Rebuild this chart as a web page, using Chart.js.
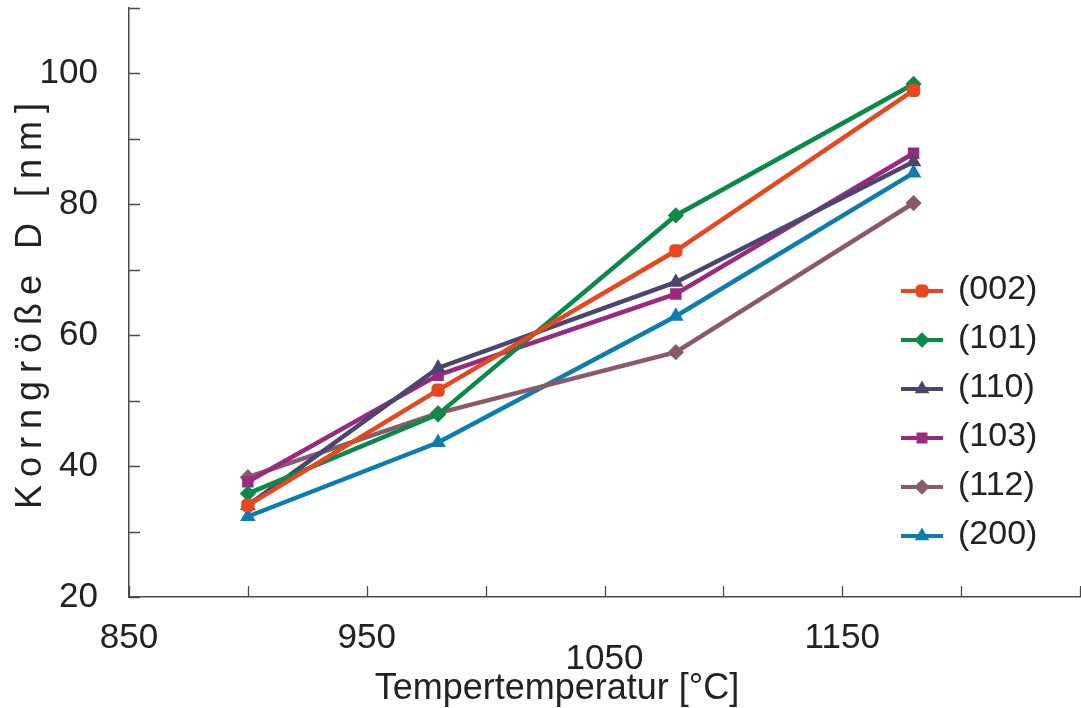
<!DOCTYPE html>
<html>
<head>
<meta charset="utf-8">
<script src="https://cdn.jsdelivr.net/npm/chart.js@4/dist/chart.umd.min.js"></script>
<style>
  body { margin: 0; background: #fff; }
  canvas { display: block; }
</style>
</head>
<body>
<canvas id="grainChart" width="1081" height="708"></canvas>
<script>
// Tempertemperatur [°C]
const temps = [900, 980, 1080, 1180];

// Korngröße D [nm] per reflex
const d002 = [34.0, 51.6, 72.9, 97.4];
const d101 = [35.8, 47.9, 78.3, 98.4];
const d110 = [34.0, 55.0, 68.1, 86.5];
const d103 = [37.6, 53.9, 66.3, 87.8];
const d112 = [38.3, 48.1, 57.4, 80.2];
const d200 = [32.3, 43.6, 62.9, 84.8];

const seriesNames = ['(002)', '(101)', '(110)', '(103)', '(112)', '(200)'];
const xTickLabels = [850, 950, 1050, 1150];
const yTickLabels = [20, 40, 60, 80, 100];

const FONT = "'Liberation Sans', Arial, sans-serif";
const AXIS = '#4a4a4a';

function makeSet(label, values, color, style) {
    return {
        label: label,
        data: values.map((v, i) => ({ x: temps[i], y: v })),
        borderColor: color,
        backgroundColor: color,
        borderWidth: 4.5,
        pointStyle: style,
        pointRadius: 6,
        pointBorderWidth: 3,
        pointBackgroundColor: color,
        tension: 0
    };
}

const datasets = [
    makeSet(seriesNames[0], d002, '#E8461E', 'rectRounded'),
    makeSet(seriesNames[1], d101, '#0A8A48', 'rectRot'),
    makeSet(seriesNames[2], d110, '#4B4670', 'triangle'),
    makeSet(seriesNames[3], d103, '#9A2A80', 'rect'),
    makeSet(seriesNames[4], d112, '#8A5A6C', 'rectRot'),
    makeSet(seriesNames[5], d200, '#0C7DB0', 'triangle')
];

// small tick marks pointing into the plot
const innerTicks = {
    id: 'innerTicks',
    afterDraw(chart) {
        const ctx = chart.ctx;
        const xs = chart.scales.x, ys = chart.scales.y;
        const area = chart.chartArea;
        ctx.save();
        ctx.strokeStyle = AXIS;
        ctx.lineWidth = 1.3;
        ctx.beginPath();
        xs.ticks.forEach(t => {
            const px = Math.round(xs.getPixelForValue(t.value)) + 0.5;
            ctx.moveTo(px, area.bottom);
            ctx.lineTo(px, area.bottom - 11);
        });
        ys.ticks.forEach(t => {
            const py = Math.round(ys.getPixelForValue(t.value)) + 0.5;
            ctx.moveTo(area.left, py);
            ctx.lineTo(area.left + 11, py);
        });
        ctx.stroke();
        ctx.restore();
    }
};

// axis titles: spaced vertical one and the temperature one
const axisTitles = {
    id: 'axisTitles',
    afterDraw(chart) {
        const ctx = chart.ctx;
        ctx.save();
        ctx.fillStyle = '#222';
        ctx.font = '36px ' + FONT;
        ctx.textAlign = 'center';
        ctx.textBaseline = 'alphabetic';
        ctx.fillText('Tempertemperatur [°C]', 557, 699);

        ctx.translate(31, 302);
        ctx.rotate(-Math.PI / 2);
        ctx.textBaseline = 'middle';
        if ('letterSpacing' in ctx) ctx.letterSpacing = '8px';
        ctx.fillText('Korngröße D [nm]', 0, 0);
        ctx.restore();
    }
};

// legend inside the plot on the right
const sideLegend = {
    id: 'sideLegend',
    afterDraw(chart) {
        const ctx = chart.ctx;
        ctx.save();
        chart.data.datasets.forEach((ds, i) => {
            const y = 291 + i * 49;
            ctx.strokeStyle = ds.borderColor;
            ctx.fillStyle = ds.borderColor;
            ctx.lineWidth = 4;
            ctx.beginPath();
            ctx.moveTo(901, y);
            ctx.lineTo(943, y);
            ctx.stroke();
            ctx.lineWidth = 2.5;
            Chart.helpers.drawPoint(ctx, {
                pointStyle: ds.pointStyle,
                radius: 6,
                rotation: 0,
                borderWidth: 2.5
            }, 922, y);
            ctx.font = '34px ' + FONT;
            ctx.fillStyle = '#222';
            ctx.textAlign = 'left';
            ctx.textBaseline = 'middle';
            ctx.fillText(ds.label, 958, y - 1);
        });
        ctx.restore();
    }
};

const config = {
    type: 'line',
    data: { datasets: datasets },
    options: {
        responsive: false,
        animation: false,
        layout: { autoPadding: false, padding: { top: 8, right: 1, left: 0, bottom: 0 } },
        plugins: {
            legend: { display: false },
            tooltip: { enabled: false }
        },
        scales: {
            x: {
                type: 'linear',
                min: 850,
                max: 1250,
                afterFit: s => {
                    s.height = 111;
                    s.paddingLeft = 0;
                    s.paddingRight = 0;
                },
                border: { display: true, color: AXIS, width: 1.5 },
                grid: { display: true, drawOnChartArea: false, drawTicks: false },
                ticks: {
                    stepSize: 50,
                    autoSkip: false,
                    maxRotation: 0,
                    padding: 31,
                    color: '#222',
                    font: { family: FONT, size: 35, lineHeight: 0.6 },
                    // the 1050 label sits a little lower in the original
                    callback: v => {
                        if (!xTickLabels.includes(v)) return '';
                        return v === 1050 ? ['', String(v)] : String(v);
                    }
                }
            },
            y: {
                min: 20,
                max: 110,
                afterFit: s => {
                    s.width = 129;
                    s.paddingTop = 0;
                    s.paddingBottom = 0;
                },
                border: { display: true, color: AXIS, width: 1.5 },
                grid: { display: true, drawOnChartArea: false, drawTicks: false },
                ticks: {
                    stepSize: 10,
                    autoSkip: false,
                    padding: 31,
                    color: '#222',
                    font: { family: FONT, size: 35 },
                    callback: v => yTickLabels.includes(v) ? String(v) : ''
                }
            }
        }
    },
    plugins: [innerTicks, axisTitles, sideLegend]
};

new Chart(document.getElementById('grainChart'), config);
</script>
</body>
</html>
